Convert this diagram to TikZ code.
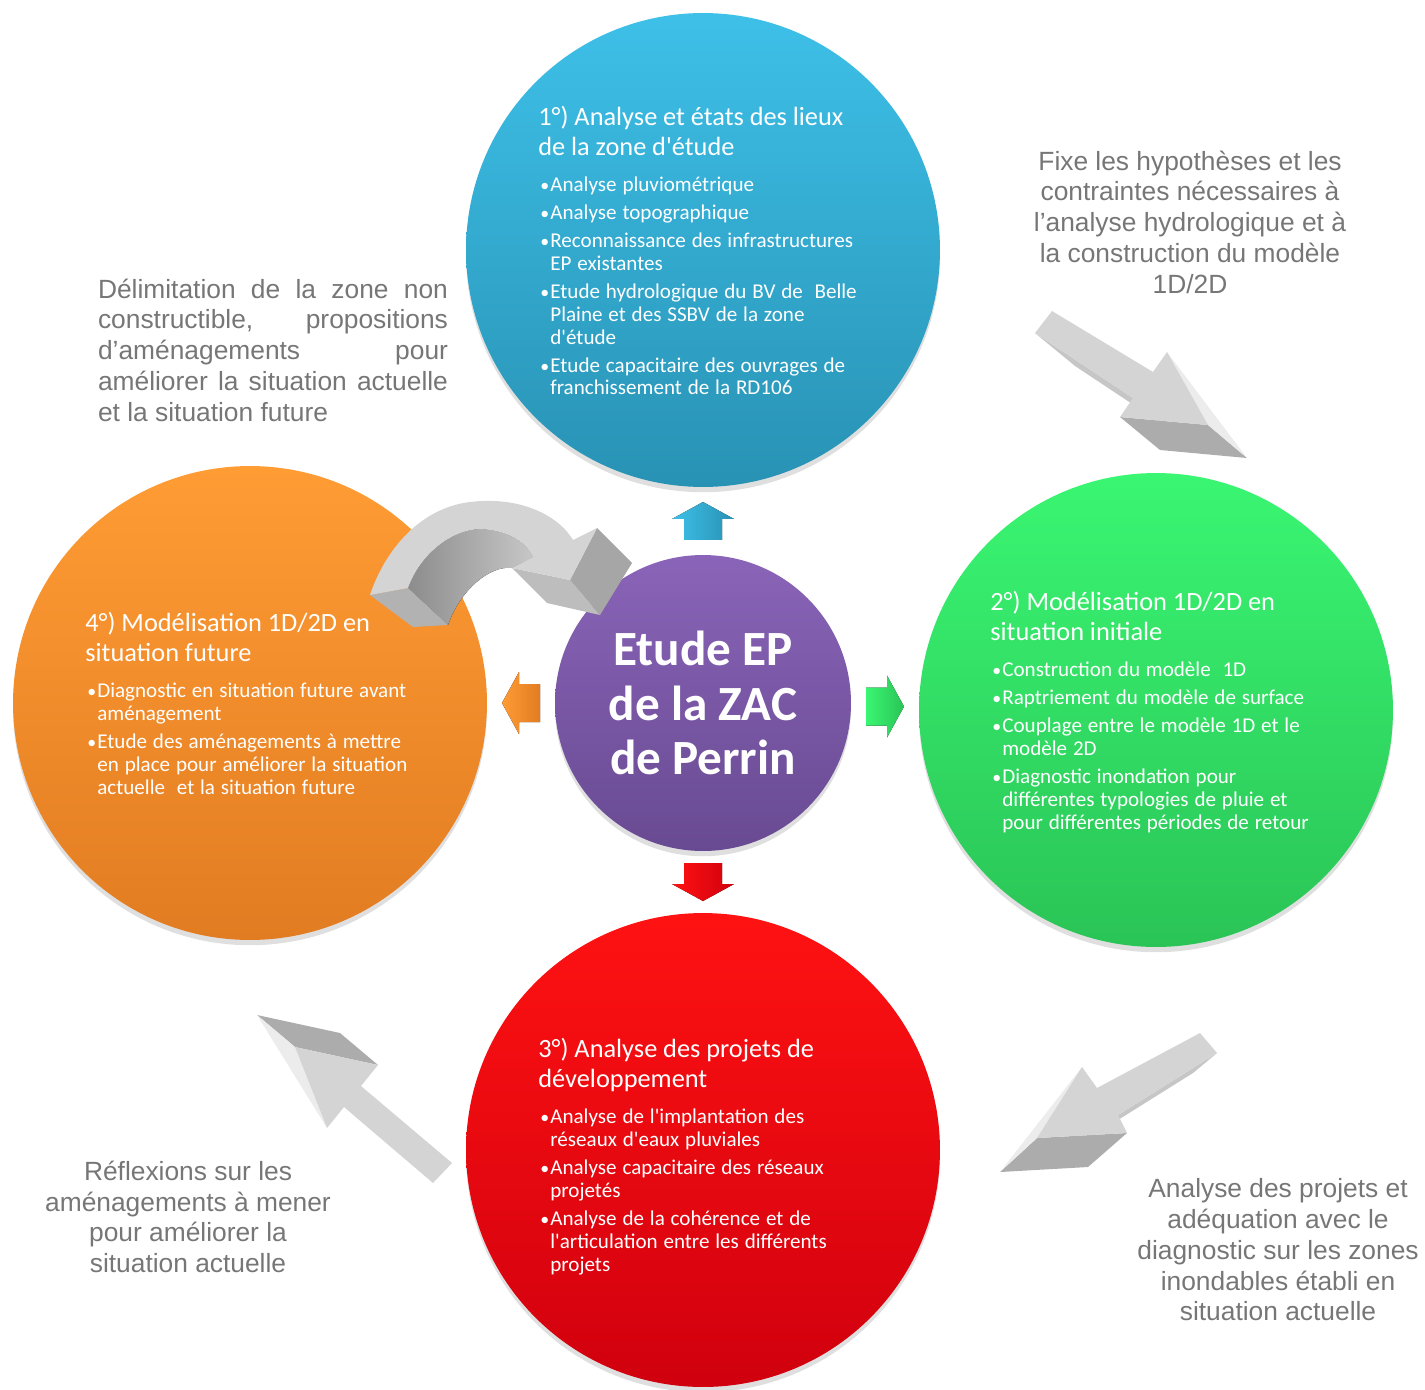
\documentclass[tikz,border=0pt]{standalone}
\usepackage{fontspec}
\setmainfont{Carlito}
\newfontfamily\notefont{Liberation Sans}
\usetikzlibrary{calc, shadows}

\definecolor{notegray}{RGB}{118,118,118}
\definecolor{blueA}{RGB}{62,192,232}
\definecolor{blueB}{RGB}{40,146,180}
\definecolor{greenA}{RGB}{58,246,114}
\definecolor{greenB}{RGB}{42,196,86}
\definecolor{redA}{RGB}{255,18,18}
\definecolor{redB}{RGB}{208,0,14}
\definecolor{orangeA}{RGB}{255,156,52}
\definecolor{orangeB}{RGB}{226,124,34}
\definecolor{purpleA}{RGB}{138,100,184}
\definecolor{purpleB}{RGB}{104,74,146}
\definecolor{faceA}{RGB}{212,212,212}
\definecolor{faceB}{RGB}{172,172,172}
\definecolor{faceC}{RGB}{236,236,236}
\definecolor{faceD}{RGB}{198,198,198}

% title of a phase, then the bullets
\newcommand\phasehead[1]{\noindent\fontsize{15pt}{17pt}\selectfont\rule{0pt}{12pt}#1\par
  \fontsize{12pt}{13pt}\selectfont\vspace{4.9pt}}
\newcommand\bul[1]{\par\vspace{2.9pt}\noindent\hangindent=0.24cm\hangafter=1%
  \makebox[0.24cm][l]{\kern1.2pt\scalebox{0.85}{\textbullet}}#1\par}

\begin{document}
\begin{tikzpicture}[x=0.02cm, y=-0.02cm,
    phase/.style={circle, minimum size=9.48cm, inner sep=0pt,
      drop shadow={opacity=0.25, shadow xshift=0pt, shadow yshift=-3pt}},
    core/.style={circle, minimum size=5.92cm, inner sep=0pt, top color=purpleA, bottom color=purpleB,
      text=white, align=center, font=\bfseries\fontsize{28pt}{31pt}\selectfont,
      drop shadow={opacity=0.25, shadow xshift=0pt, shadow yshift=-3pt}},
    phasetext/.style={anchor=north west, inner sep=0pt, text width=8cm, align=left, text=white},
    note/.style={inner sep=0pt, text=notegray, font=\notefont\fontsize{15pt}{17.5pt}\selectfont},
    topface/.style={fill=faceA},
    darkface/.style={fill=faceB},
    paleface/.style={fill=faceC},
    edgeface/.style={fill=faceD}
  ]
  \useasboundingbox (0,0) rectangle (1425,1389);

  % the four phases
  \node[phase, top color=blueA, bottom color=blueB] (p1) at (703,250) {};
  \node[phase, top color=greenA, bottom color=greenB] (p2) at (1156,710) {};
  \node[phase, top color=redA, bottom color=redB] (p3) at (703,1150) {};
  \node[phase, top color=orangeA, bottom color=orangeB] (p4) at (250,703) {};
  \node[core] (zac) at (703,703) {Etude EP\\de la ZAC\\de Perrin};

  % small arrows round the centre
  \coordinate (m1) at ($(p1.south)!0.5!(zac.north)$);
  \coordinate (m2) at ($(zac.east)!0.5!(p2.west)$);
  \coordinate (m3) at ($(zac.south)!0.5!(p3.north)$);
  \coordinate (m4) at ($(p4.east)!0.5!(zac.west)$);
  \fill[left color=blueA, right color=blueB, shift={(m1)}]
    (0,-19) -- (31,-2) -- (19,-2) -- (19,19) -- (-19,19) -- (-19,-2) -- (-31,-2) -- cycle;
  \fill[left color=greenA, right color=greenB, shift={(m2)}, rotate=-90]
    (0,-19) -- (31,-2) -- (19,-2) -- (19,19) -- (-19,19) -- (-19,-2) -- (-31,-2) -- cycle;
  \fill[left color=redA, right color=redB, shift={(m3)}, rotate=180]
    (0,-19) -- (31,-2) -- (19,-2) -- (19,19) -- (-19,19) -- (-19,-2) -- (-31,-2) -- cycle;
  \fill[left color=orangeA, right color=orangeB, shift={(m4)}, rotate=90]
    (0,-19) -- (31,-2) -- (19,-2) -- (19,19) -- (-19,19) -- (-19,-2) -- (-31,-2) -- cycle;

  % grey arrows between the notes
  \fill[edgeface] (1035,333) -- (1133,398) -- (1173,431) -- (1075,366) -- cycle;
  \fill[darkface] (1120,417) -- (1208,425) -- (1247,458) -- (1160,450) -- cycle;
  \fill[paleface] (1167,352) -- (1247,458) -- (1208,425) -- cycle;
  \fill[topface] (1052,311) -- (1153,372) -- (1167,352) -- (1208,425) -- (1120,417)
    -- (1133,398) -- (1035,333) -- cycle;

  \fill[edgeface] (1217,1053) -- (1118,1115) -- (1094,1135) -- (1193,1073) -- cycle;
  \fill[darkface] (1037,1138) -- (1127,1133) -- (1088,1167) -- (1000,1172) -- cycle;
  \fill[paleface] (1082,1067) -- (1037,1138) -- (1000,1172) -- cycle;
  \fill[topface] (1200,1033) -- (1097,1088) -- (1082,1067) -- (1037,1138) -- (1127,1133)
    -- (1118,1115) -- (1217,1053) -- cycle;

  \fill[darkface] (257,1015) -- (340,1033) -- (378,1065) -- (295,1047) -- cycle;
  \fill[paleface] (257,1015) -- (295,1047) -- (327,1128) -- cycle;
  \fill[topface] (295,1047) -- (378,1065) -- (361,1086) -- (452,1163) -- (433,1183)
    -- (344,1107) -- (327,1128) -- cycle;

  % curved arrow
  \fill[left color=black!45, right color=black!22]
    (408,588) .. controls (420,555) and (450,530) .. (480,529)
    .. controls (505,530) and (525,540) .. (533,557) -- (512,568)
    .. controls (490,565) and (460,590) .. (448,625) -- cycle;
  \fill[fill=black!30] (370,595) -- (408,588) -- (448,625) -- (413,627) -- cycle;
  \fill[fill=black!26] (512,568) -- (570,580) -- (600,615) -- (547,603) -- cycle;
  \fill[fill=black!35] (570,580) -- (597,528) -- (632,563) -- (600,615) -- cycle;
  \fill[topface] (370,595) .. controls (385,550) and (420,508) .. (470,502)
    .. controls (520,496) and (558,515) .. (573,540) -- (597,528) -- (570,580) -- (512,568)
    -- (533,557) .. controls (525,540) and (505,530) .. (480,529)
    .. controls (450,530) and (420,555) .. (408,588) -- cycle;

  % texts of the phases
  \node[phasetext] (t1) at (538,104) {%
    \phasehead{1°) Analyse et états des lieux\newline de la zone d\textquotesingle étude}
    \bul{Analyse pluviométrique}
    \bul{Analyse topographique}
    \bul{Reconnaissance des infrastructures\newline EP existantes}
    \bul{Etude hydrologique du BV de\ \ Belle\newline Plaine et des SSBV de la zone\newline d\textquotesingle étude}
    \bul{Etude capacitaire des ouvrages de\newline franchissement de la RD106}};
  \node[phasetext] (t2) at (990,589) {%
    \phasehead{2°) Modélisation 1D/2D en\newline situation initiale}
    \bul{Construction du modèle\ \ 1D}
    \bul{Raptriement du modèle de surface}
    \bul{Couplage entre le modèle 1D et le\newline modèle 2D}
    \bul{Diagnostic inondation pour\newline différentes typologies de pluie et\newline pour différentes périodes de retour}};
  \node[phasetext] (t3) at (538,1036) {%
    \phasehead{3°) Analyse des projets de\newline développement}
    \bul{Analyse de l\textquotesingle implantation des\newline réseaux d\textquotesingle eaux pluviales}
    \bul{Analyse capacitaire des réseaux\newline projetés}
    \bul{Analyse de la cohérence et de\newline l\textquotesingle articulation entre les différents\newline projets}};
  \node[phasetext] (t4) at (85,610) {%
    \phasehead{4°) Modélisation 1D/2D en\newline situation future}
    \bul{Diagnostic en situation future avant\newline aménagement}
    \bul{Etude des aménagements à mettre\newline en place pour améliorer la situation\newline actuelle\ \ et la situation future}};

  % notes
  \node[note, align=center] (n1) at (1190,222) {Fixe les hypothèses et les\\contraintes nécessaires à\\l’analyse hydrologique et à\\la construction du modèle\\1D/2D};
  \node[note, text width=7cm, align=justify] (n2) at (273,350) {\noindent Délimitation de la zone non\linebreak constructible, propositions\linebreak d’aménagements pour\linebreak améliorer la situation actuelle\linebreak et la situation future};
  \node[note, align=center] (n3) at (188,1217) {Réflexions sur les\\aménagements à mener\\pour améliorer la\\situation actuelle};
  \node[note, align=center] (n4) at (1278,1250) {Analyse des projets et\\adéquation avec le\\diagnostic sur les zones\\inondables établi en\\situation actuelle};
\end{tikzpicture}
\end{document}
